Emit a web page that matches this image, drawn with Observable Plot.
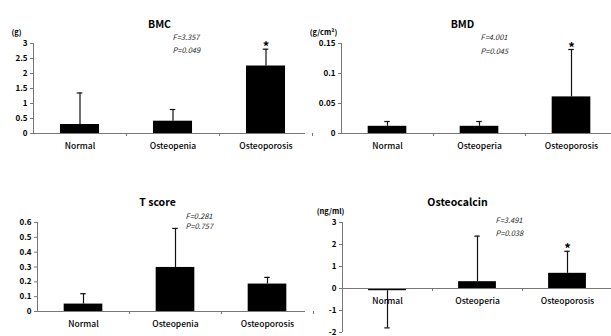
<!DOCTYPE html>
<html>
<head>
<meta charset="utf-8">
<script src="https://cdn.jsdelivr.net/npm/d3@7"></script>
<script src="https://cdn.jsdelivr.net/npm/@observablehq/plot@0.6"></script>
<style>
  html, body { margin: 0; padding: 0; background: #fff; }
  #wrap { position: relative; width: 611px; height: 336px; overflow: hidden; background: #fff; }
  .panel { position: absolute; }
  .panel svg { overflow: visible; }
</style>
</head>
<body>
<div id="wrap"></div>
<script>
// ---- data ----
const categories = ["Normal", "Osteopenia", "Osteoporosis"];
const categoriesBMD = ["Normal", "Osteoperia", "Osteoporosis"];
const categoriesOC = ["Normal", "Osteoperia", "Osteoporosis"];

const bmcMean = [0.30, 0.41, 2.25];
const bmcSD = [1.05, 0.39, 0.56];
const bmcTicks = [0, 0.5, 1, 1.5, 2, 2.5, 3];

const bmdMean = [0.012, 0.012, 0.061];
const bmdSD = [0.008, 0.008, 0.079];
const bmdTicks = [0, 0.05, 0.1, 0.15];

const tMean = [0.050, 0.297, 0.185];
const tSD = [0.070, 0.263, 0.045];
const tTicks = [0, 0.1, 0.2, 0.3, 0.4, 0.5, 0.6];

const ocMean = [-0.10, 0.31, 0.69];
const ocSD = [1.69, 2.07, 1.00];
const ocTicks = [-2, -1, 0, 1, 2, 3];

const titles = ["BMC", "BMD", "T score", "Osteocalcin"];
const units = ["(g)", "(g/cm²)", "", "(ng/ml)"];
const fStats = ["F=3.357", "F=4.001", "F=0.281", "F=3.491"];
const pStats = ["P=0.049", "P=0.045", "P=0.757", "P=0.038"];
const significant = [[false, false, true], [false, false, true], [false, false, false], [false, false, true]];

// ---- layout ----
const FONT = "'Noto Sans CJK KR', 'Noto Sans', sans-serif";
const panels = [
  {left: 0, top: 0, width: 305, height: 160, mL: 33, mT: 43, mB: 27, xr: [33, 312], cats: categories, mean: bmcMean, sd: bmcSD, ticks: bmcTicks, domain: [0, 3],
   title: [126, -23], unit: [-17, -14], stat: [139, -9, 4]},
  {left: 305, top: 0, width: 306, height: 160, mL: 36, mT: 43, mB: 27, xr: [36, 312], cats: categoriesBMD, mean: bmdMean, sd: bmdSD, ticks: bmdTicks, domain: [0, 0.15],
   title: [121, -23], unit: [-18, -14], stat: [139, -9, 5]},
  {left: 0, top: 165, width: 305, height: 171, mL: 37, mT: 57, mB: 25, xr: [37, 313], cats: categories, mean: tMean, sd: tSD, ticks: tTicks, domain: [0, 0.6],
   title: [120, -24], unit: [0, 0], stat: [148, -9, 1]},
  {left: 305, top: 165, width: 306, height: 171, mL: 37, mT: 57, mB: 4, xr: [37, 307], cats: categoriesOC, mean: ocMean, sd: ocSD, ticks: ocTicks, domain: [-2, 3],
   title: [115, -24], unit: [-12, -14], stat: [153, -5, 8]}
];

const wrap = document.getElementById("wrap");

panels.forEach((p, k) => {
  const rows = p.cats.map((c, i) => {
    const m = p.mean[i];
    const tip = m + (m < 0 ? -p.sd[i] : p.sd[i]);
    return {cat: c, c: i + 0.5, mean: m, tip, sig: significant[k][i]};
  });
  const frameH = p.height - p.mT - p.mB;
  const unitPerPx = (p.domain[1] - p.domain[0]) / frameH;
  const tickLen = 3 * unitPerPx;
  const hw = 0.21, cap = 0.03;

  const svg = Plot.plot({
    width: p.width,
    height: p.height,
    marginLeft: p.mL,
    marginTop: p.mT,
    marginBottom: p.mB,
    marginRight: 0,
    style: {fontFamily: FONT, fontSize: "8px", color: "#000", background: "transparent", overflow: "visible"},
    x: {domain: [0, 3], range: p.xr, axis: null},
    y: {domain: p.domain, axis: null},
    marks: [
      // bars
      Plot.rectY(rows, {x1: d => d.c - hw, x2: d => d.c + hw, y: "mean", fill: "#000"}),
      // error bars
      Plot.ruleX(rows, {x: "c", y1: "mean", y2: "tip", stroke: "#111", strokeWidth: 1.2}),
      Plot.ruleY(rows, {y: "tip", x1: d => d.c - cap, x2: d => d.c + cap, stroke: "#111", strokeWidth: 1.2}),
      // axes lines
      Plot.ruleY([0], {stroke: "#777", strokeWidth: 1}),
      Plot.ruleX([0], {stroke: "#777", strokeWidth: 1}),
      Plot.ruleX([1, 2, 3], {x: d => d, y1: 0, y2: -tickLen, stroke: "#777"}),
      Plot.axisY({ticks: p.ticks, tickSize: 3, tickPadding: 3, fontWeight: "bold", fontSize: 8, stroke: "#777", tickFormat: d => String(+d.toFixed(3))}),
      // category labels
      Plot.text(rows, {x: "c", y: 0, text: "cat", dy: 13, fontSize: 8.5, letterSpacing: 0.3, fill: "#000", fontWeight: 500}),
      // significance asterisks
      Plot.text(rows.filter(d => d.sig), {x: "c", y: "tip", text: () => "*", dy: -2, fontSize: 13, fontWeight: "bold"}),
      // title
      Plot.text([titles[k]], {frameAnchor: "top-left", dx: p.title[0], dy: p.title[1], fontSize: 10.5, fontWeight: "bold", textAnchor: "middle"}),
      // unit
      Plot.text([units[k]], {frameAnchor: "top-left", dx: p.unit[0], dy: p.unit[1], fontSize: 7.5, fontWeight: "bold", textAnchor: "middle"}),
      // stats
      Plot.text([fStats[k]], {frameAnchor: "top-left", dx: p.stat[0], dy: p.stat[1], fontSize: 7.5, fontStyle: "italic", textAnchor: "start", fill: "#222"}),
      Plot.text([pStats[k]], {frameAnchor: "top-left", dx: p.stat[0], dy: p.stat[2], fontSize: 7.5, fontStyle: "italic", textAnchor: "start", fill: "#222"})
    ]
  });
  const div = document.createElement("div");
  div.className = "panel";
  div.style.left = p.left + "px";
  div.style.top = p.top + "px";
  div.appendChild(svg);
  wrap.appendChild(div);
});
</script>
</body>
</html>
